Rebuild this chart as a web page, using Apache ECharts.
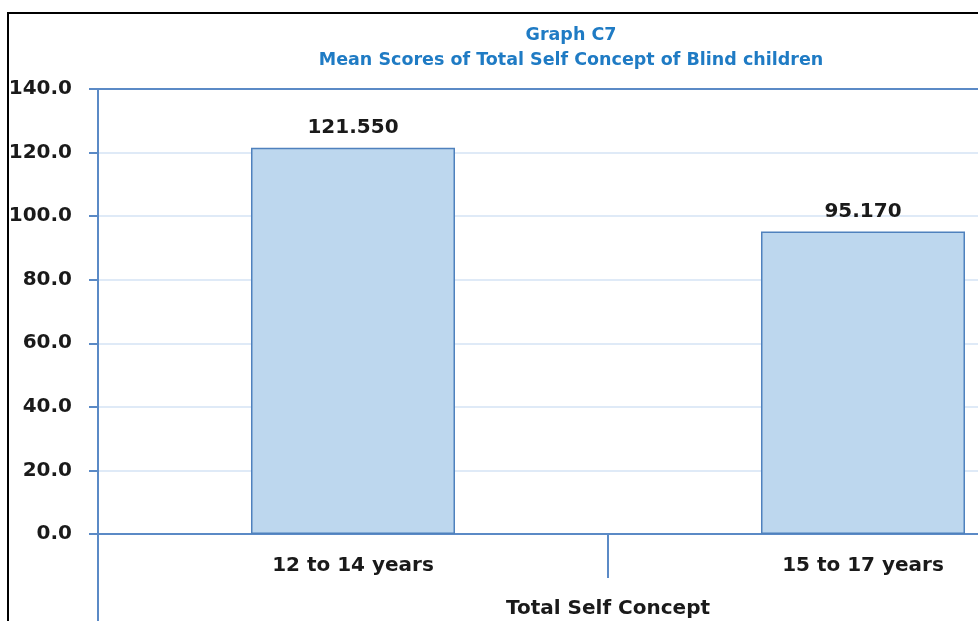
<!DOCTYPE html>
<html>
<head>
<meta charset="utf-8">
<script src="https://cdn.jsdelivr.net/npm/echarts@6/dist/echarts.min.js"></script>
<style>
html,body{margin:0;padding:0;background:#fff;overflow:hidden;width:978px;height:621px;}
#chart{width:1130px;height:621px;position:absolute;left:0;top:0;}
#frame{position:absolute;left:7px;top:12px;width:980px;height:620px;border-top:2px solid #000;border-left:2px solid #000;pointer-events:none;}
</style>
</head>
<body>
<div id="chart"></div>
<div id="frame"></div>
<script>
var categories = ['12 to 14 years', '15 to 17 years'];
var outerCategories = ['Total Self Concept'];
var meanScores = [121.55, 95.17];
var titleLines = ['Graph C7', 'Mean Scores of Total Self Concept of Blind children'];

var axisBlue = '#5b8ac6';
var gridBlue = '#dfeaf7';
var chart = echarts.init(document.getElementById('chart'));
chart.setOption({
  animation: false,
  title: {
    text: titleLines.join('\n'),
    left: 566,
    top: 18,
    textAlign: 'center',
    textStyle: {
      fontFamily: 'DejaVu Sans',
      fontWeight: 'bold',
      fontSize: 17.5,
      lineHeight: 25,
      color: '#1f7bc4'
    }
  },
  grid: { left: 98, top: 89, width: 1020, height: 445, containLabel: false },
  xAxis: [{
    type: 'category',
    data: categories,
    position: 'bottom',
    axisLine: { show: true, lineStyle: { color: axisBlue, width: 2 } },
    axisTick: { show: true, alignWithLabel: false, length: 44, lineStyle: { color: axisBlue, width: 2 } },
    axisLabel: {
      margin: 22,
      fontFamily: 'DejaVu Sans',
      fontWeight: 'bold',
      fontSize: 20,
      color: '#1a1a1a'
    },
    splitLine: { show: false }
  }, {
    type: 'category',
    data: outerCategories,
    position: 'bottom',
    axisLine: { show: false },
    axisTick: { show: true, length: 90, lineStyle: { color: axisBlue, width: 2 } },
    axisLabel: {
      margin: 65,
      fontFamily: 'DejaVu Sans',
      fontWeight: 'bold',
      fontSize: 20,
      color: '#1a1a1a'
    }
  }],
  yAxis: {
    type: 'value',
    min: 0,
    max: 140,
    interval: 20,
    axisLine: { show: true, lineStyle: { color: axisBlue, width: 2 } },
    axisTick: { show: true, length: 9, lineStyle: { color: axisBlue, width: 2 } },
    axisLabel: {
      margin: 26,
      formatter: function (v) { return v.toFixed(1); },
      fontFamily: 'DejaVu Sans',
      fontWeight: 'bold',
      fontSize: 20,
      color: '#1a1a1a'
    },
    splitLine: {
      show: true,
      lineStyle: {
        color: [gridBlue, gridBlue, gridBlue, gridBlue, gridBlue, gridBlue, gridBlue, axisBlue],
        width: 2
      }
    }
  },
  series: [{
    type: 'bar',
    xAxisIndex: 0,
    data: meanScores,
    barWidth: '40%',
    itemStyle: { color: '#bdd7ee', borderColor: '#4f81bd', borderWidth: 1.5 },
    label: {
      show: true,
      position: 'top',
      distance: 10,
      formatter: function (p) { return p.value.toFixed(3); },
      fontFamily: 'DejaVu Sans',
      fontWeight: 'bold',
      fontSize: 20,
      color: '#1a1a1a'
    }
  }]
});
</script>
</body>
</html>
